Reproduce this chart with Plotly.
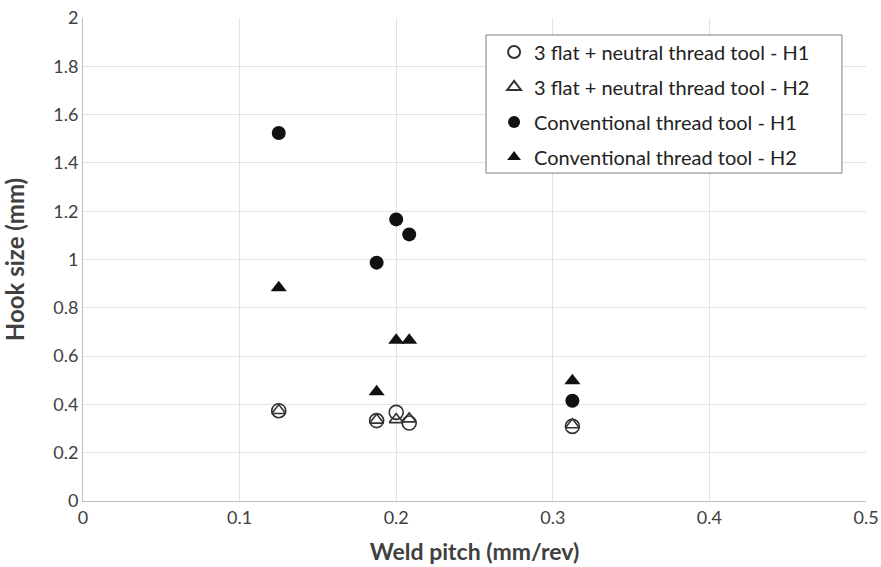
import plotly.graph_objects as go

# Data
x_new = [0.125, 0.1875, 0.2, 0.2083, 0.3125]
h1_new = [0.374, 0.333, 0.367, 0.323, 0.309]
h2_new = [0.375, 0.335, 0.337, 0.340, 0.316]

x_conv = [0.125, 0.1875, 0.2, 0.2083, 0.3125]
h1_conv = [1.524, 0.987, 1.166, 1.104, 0.415]
h2_conv = [0.883, 0.452, 0.666, 0.666, 0.498]

names = [
    "3 flat + neutral thread tool - H1",
    "3 flat + neutral thread tool - H2",
    "Conventional thread tool - H1",
    "Conventional thread tool - H2",
]

x_ticks = [0, 0.1, 0.2, 0.3, 0.4, 0.5]
x_ticklabels = ["0", "0.1", "0.2", "0.3", "0.4", "0.5"]
y_ticks = [0, 0.2, 0.4, 0.6, 0.8, 1, 1.2, 1.4, 1.6, 1.8, 2]
y_ticklabels = ["0", "0.2", "0.4", "0.6", "0.8", "1", "1.2", "1.4", "1.6", "1.8", "2"]

FONT = "Lato"
TXT = "#404040"

fig = go.Figure()
fig.add_trace(go.Scatter(
    x=x_new, y=h1_new, mode="markers", name=names[0], legendgroup="a",
    marker=dict(symbol="circle-open", size=14, color="#333333", line=dict(width=1.6, color="#333333")),
))
fig.add_trace(go.Scatter(
    x=x_new, y=h2_new, mode="markers", name=names[1], legendgroup="b",
    marker=dict(symbol="triangle-up-open", size=12, color="#333333", line=dict(width=1.6, color="#333333")),
))
fig.add_trace(go.Scatter(
    x=x_conv, y=h1_conv, mode="markers", name=names[2], legendgroup="c",
    marker=dict(symbol="circle", size=14, color="#111111"),
))
fig.add_trace(go.Scatter(
    x=x_conv, y=h2_conv, mode="markers", name=names[3], legendgroup="d",
    marker=dict(symbol="triangle-up", size=14, color="#111111"),
))

# Legend frame (wider than Plotly's auto-sized legend box, as in the reference)
fig.add_shape(
    type="rect", xref="paper", yref="paper",
    x0=0.5147, x1=0.9693, y0=0.679, y1=0.9648,
    line=dict(color="#7f7f7f", width=1), fillcolor="white", layer="above",
)

fig.update_layout(
    width=881, height=567,
    margin=dict(l=83, r=15, t=18, b=66),
    paper_bgcolor="white", plot_bgcolor="white",
    font=dict(family=FONT, size=18, color=TXT),
    showlegend=True,
    legend=dict(
        x=0.525, y=0.970, xanchor="left", yanchor="top",
        bgcolor="rgba(0,0,0,0)", borderwidth=0,
        font=dict(family=FONT, size=20, color="#222222"),
        itemsizing="constant", tracegroupgap=6,
        itemwidth=30,
    ),
)
fig.update_xaxes(
    range=[0, 0.5], tickvals=x_ticks, ticktext=x_ticklabels,
    showgrid=True, gridcolor="#e3e3e3", gridwidth=1,
    showline=True, linecolor="#bfbfbf", linewidth=1, mirror=False,
    zeroline=False, ticks="", ticklen=0, automargin=False,
    tickfont=dict(family=FONT, size=18, color=TXT),
    title=dict(text="<b>Weld pitch (mm/rev)</b>", font=dict(family=FONT, size=23, color=TXT), standoff=17),
)
fig.update_yaxes(
    range=[0, 2], tickvals=y_ticks, ticktext=y_ticklabels,
    showgrid=True, gridcolor="#e3e3e3", gridwidth=1,
    showline=True, linecolor="#bfbfbf", linewidth=1,
    zeroline=False, ticks="", ticklen=0, automargin=False,
    tickfont=dict(family=FONT, size=18, color=TXT),
    title=dict(text="<b>Hook size (mm)</b>", font=dict(family=FONT, size=24, color=TXT), standoff=23),
)

fig.write_html("out.html")
